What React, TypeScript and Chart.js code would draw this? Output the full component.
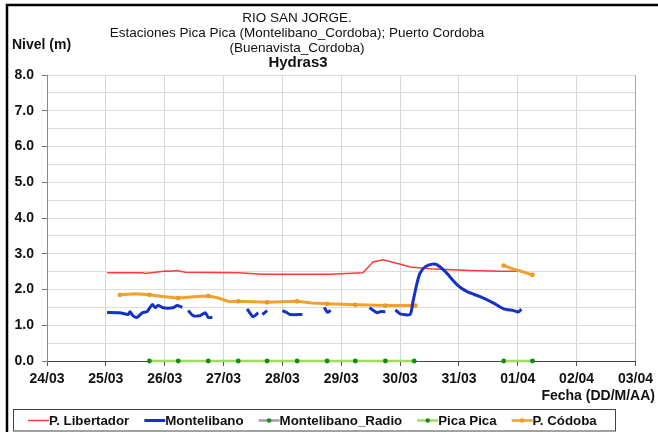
import React, { useEffect, useRef } from "react";
import { Chart, registerables } from "chart.js";

Chart.register(...registerables);

// x values are days since 24/03 00:00
const xTickLabels = ["24/03", "25/03", "26/03", "27/03", "28/03", "29/03", "30/03", "31/03", "01/04", "02/04", "03/04"];
const yMin = 0;
const yMax = 8;

const titleLines = ["RIO SAN JORGE.", "Estaciones Pica Pica (Montelibano_Cordoba); Puerto Cordoba", "(Buenavista_Cordoba)"];
const subTitle = "Hydras3";
const yTitle = "Nivel (m)";
const xTitle = "Fecha (DD/M/AA)";

const seriesNames = ["P. Libertador", "Montelibano", "Montelibano_Radio", "Pica Pica", "P. Códoba"];

const libertadorX = [1.02, 1.63, 1.66, 2.02, 2.1, 2.2, 2.35, 3.25, 3.67, 4.81, 5.37, 5.54, 5.71, 6.04, 6.17, 6.51, 7.19, 7.7, 8.01];
const libertadorY = [2.47, 2.47, 2.45, 2.52, 2.51, 2.53, 2.48, 2.47, 2.43, 2.43, 2.47, 2.77, 2.83, 2.69, 2.63, 2.58, 2.53, 2.51, 2.51];

const montelibanoX = [
  1.02, 1.24, 1.38, 1.41, 1.46, 1.53, 1.62, 1.7, 1.79, 1.84, 1.89, 1.97, 2.14, 2.21, 2.3,
  2.35,
  2.4, 2.48, 2.6, 2.69, 2.74, 2.81,
  3.1,
  3.4, 3.5, 3.59,
  3.62,
  3.66, 3.74,
  3.9,
  4.0, 4.08, 4.13, 4.34,
  4.5,
  4.71, 4.77, 4.82,
  5.2,
  5.48, 5.61, 5.66, 5.75,
  5.85,
  5.92, 6.0, 6.17, 6.22, 6.29, 6.34, 6.43, 6.55, 6.63, 6.77, 6.97, 7.14, 7.36, 7.59, 7.76, 7.93, 8.01, 8.06,
];
const montelibanoY = [
  1.36, 1.35, 1.3, 1.38, 1.27, 1.22, 1.35, 1.38, 1.58, 1.49, 1.56, 1.49, 1.49, 1.55, 1.5,
  null,
  1.41, 1.27, 1.27, 1.35, 1.22, 1.22,
  null,
  1.46, 1.24, 1.35,
  null,
  1.3, 1.41,
  null,
  1.41, 1.35, 1.3, 1.3,
  null,
  1.5, 1.36, 1.42,
  null,
  1.49, 1.35, 1.38, 1.38,
  null,
  1.43, 1.32, 1.3, 1.67, 2.19, 2.46, 2.64, 2.71, 2.69, 2.5, 2.13, 1.94, 1.8, 1.62, 1.46, 1.41, 1.37, 1.45,
];

const radioX: number[] = [];
const radioY: number[] = [];

const picaX = [1.74, 2.23, 2.74, 3.25, 3.74, 4.25, 4.76, 5.24, 5.75, 6.24, 7.0, 7.76, 8.25];
const picaY = [0, 0, 0, 0, 0, 0, 0, 0, 0, 0, null, 0, 0];

const cordobaX = [1.24, 1.5, 1.74, 2.0, 2.23, 2.5, 2.74, 2.9, 3.1, 3.25, 3.74, 4.25, 4.5, 4.76, 5.24, 5.75, 6.0, 6.26, 7.0, 7.76, 8.01, 8.25];
const cordobaY = [1.85, 1.88, 1.85, 1.8, 1.76, 1.8, 1.82, 1.77, 1.66, 1.67, 1.64, 1.67, 1.62, 1.6, 1.57, 1.55, 1.55, 1.55, null, 2.67, 2.53, 2.41];

const pts = (xs: number[], ys: (number | null)[]) => xs.map((x, i) => ({ x, y: ys[i] }));

// readings taken at 06:00 / 18:00 carry a marker
const isMarkerTime = (x: number) => {
  const v = (x - 0.25) * 2;
  return Math.abs(v - Math.round(v)) < 0.05;
};

const FONT = '"Liberation Sans", Arial, sans-serif';

const decorPlugin = {
  id: "decor",
  afterDraw(chart: any) {
    const ctx = chart.ctx as CanvasRenderingContext2D;
    const area = chart.chartArea;
    ctx.save();
    // right border of plot
    ctx.strokeStyle = "#a8a8a8";
    ctx.lineWidth = 1;
    ctx.beginPath();
    ctx.moveTo(Math.round(area.right) + 0.5, area.top);
    ctx.lineTo(Math.round(area.right) + 0.5, area.bottom);
    ctx.stroke();

    // outer frame
    ctx.strokeStyle = "#000";
    ctx.lineWidth = 2.5;
    ctx.beginPath();
    ctx.moveTo(7, 440);
    ctx.lineTo(7, 5);
    ctx.lineTo(660, 5);
    ctx.stroke();

    ctx.fillStyle = "#111";
    ctx.textBaseline = "middle";
    ctx.textAlign = "center";
    ctx.font = `13.5px ${FONT}`;
    const tys = [18, 33.5, 48.5];
    titleLines.forEach((t, i) => ctx.fillText(t, 297, tys[i]));
    ctx.font = `bold 15px ${FONT}`;
    ctx.fillText(subTitle, 298, 63);

    ctx.font = `bold 14px ${FONT}`;
    ctx.textAlign = "left";
    ctx.fillText(yTitle, 12, 45);
    ctx.textAlign = "right";
    ctx.fillText(xTitle, 655, 396);

    // legend
    ctx.strokeStyle = "#444";
    ctx.lineWidth = 1;
    ctx.strokeRect(13.5, 409.5, 602, 21.5);
    ctx.font = `bold 13.3px ${FONT}`;
    ctx.textAlign = "left";
    let x = 28;
    const ly = 420.5;
    const items = [0, 1, 2, 3, 4];
    items.forEach((idx) => {
      const ds = chart.data.datasets.find((d: any) => d.label === seriesNames[idx]);
      ctx.strokeStyle = ds.borderColor;
      ctx.lineWidth = idx === 0 ? 1.5 : idx === 1 ? 3 : 2.5;
      ctx.beginPath();
      ctx.moveTo(x, ly);
      ctx.lineTo(x + 21, ly);
      ctx.stroke();
      if (idx >= 2) {
        ctx.fillStyle = ds.pointBackgroundColor;
        ctx.beginPath();
        ctx.arc(x + 10.5, ly, 2.2, 0, Math.PI * 2);
        ctx.fill();
      }
      ctx.fillStyle = "#111";
      ctx.fillText(seriesNames[idx], x + 21, ly + 0.5);
      x += 21 + ctx.measureText(seriesNames[idx]).width + 15;
    });
    ctx.restore();
  },
};

export default function App() {
  const ref = useRef<HTMLCanvasElement>(null);
  useEffect(() => {
    document.body.style.margin = "0";
    const canvas = ref.current!;
    const chart = new Chart(canvas, {
      type: "line",
      data: {
        datasets: [
          {
            label: seriesNames[0],
            data: pts(libertadorX, libertadorY),
            borderColor: "#ff3b3b",
            backgroundColor: "#ff3b3b",
            borderWidth: 1.5,
            pointRadius: 0,
            order: 3,
          },
          {
            label: seriesNames[1],
            data: pts(montelibanoX, montelibanoY),
            borderColor: "#1432c8",
            backgroundColor: "#1432c8",
            borderWidth: 3,
            pointRadius: 0,
            spanGaps: false,
            tension: 0.2,
            order: 0,
          },
          {
            label: seriesNames[2],
            data: pts(radioX, radioY),
            borderColor: "#a0a0a0",
            backgroundColor: "#a0a0a0",
            pointBackgroundColor: "#1a8a1a",
            pointBorderColor: "#1a8a1a",
            borderWidth: 2.5,
            pointRadius: 2,
            pointBorderWidth: 0,
            order: 4,
          },
          {
            label: seriesNames[3],
            data: pts(picaX, picaY),
            borderColor: "#9ddc60",
            backgroundColor: "#9ddc60",
            pointBackgroundColor: "#138a13",
            pointBorderColor: "#138a13",
            borderWidth: 2.5,
            pointRadius: 2.4,
            pointBorderWidth: 0,
            spanGaps: false,
            clip: 8,
            order: 1,
          },
          {
            label: seriesNames[4],
            data: pts(cordobaX, cordobaY),
            borderColor: "#f2a12e",
            backgroundColor: "#f2a12e",
            pointBackgroundColor: "#ee9a22",
            pointBorderColor: "#ee9a22",
            borderWidth: 3,
            pointBorderWidth: 0,
            pointRadius: (c: any) => (c.raw && isMarkerTime(c.raw.x) ? 2.4 : 0),
            spanGaps: false,
            order: 2,
          },
        ],
      },
      options: {
        animation: false,
        responsive: false,
        maintainAspectRatio: false,
        layout: { padding: { left: 0, right: 22, top: 75, bottom: 40 } },
        plugins: { legend: { display: false }, tooltip: { enabled: false }, title: { display: false } },
        scales: {
          x: {
            type: "linear",
            min: 0,
            max: xTickLabels.length - 1,
            ticks: {
              stepSize: 1,
              autoSkip: false,
              maxRotation: 0,
              padding: 5,
              color: "#111",
              font: { family: FONT, size: 14, weight: "bold" },
              callback: (v: any) => xTickLabels[Math.round(Number(v))] ?? "",
            },
            grid: { color: "#d6d6d6", lineWidth: 1, tickLength: 5, tickColor: "#555" },
            border: { color: "#444", width: 1 },
            afterFit: (s: any) => {
              s.height = 31;
            },
          },
          y: {
            min: yMin,
            max: yMax,
            ticks: {
              stepSize: 0.5,
              maxTicksLimit: 30,
              autoSkip: false,
              padding: 8,
              color: "#111",
              font: { family: FONT, size: 14, weight: "bold" },
              callback: (v: any) => (Number.isInteger(Number(v)) ? Number(v).toFixed(1) : ""),
            },
            grid: {
              color: "#dcdcdc",
              lineWidth: 1,
              tickLength: 5,
              tickColor: (c: any) => (c.tick && Number.isInteger(c.tick.value) ? "#777" : "rgba(0,0,0,0)"),
            },
            border: { color: "#8a8a8a", width: 1 },
            afterFit: (s: any) => {
              s.width = 47;
            },
          },
        },
      },
      plugins: [decorPlugin],
    } as any);
    return () => chart.destroy();
  }, []);
  return <canvas ref={ref} width={658} height={432} style={{ display: "block", width: 658, height: 432 }} />;
}
